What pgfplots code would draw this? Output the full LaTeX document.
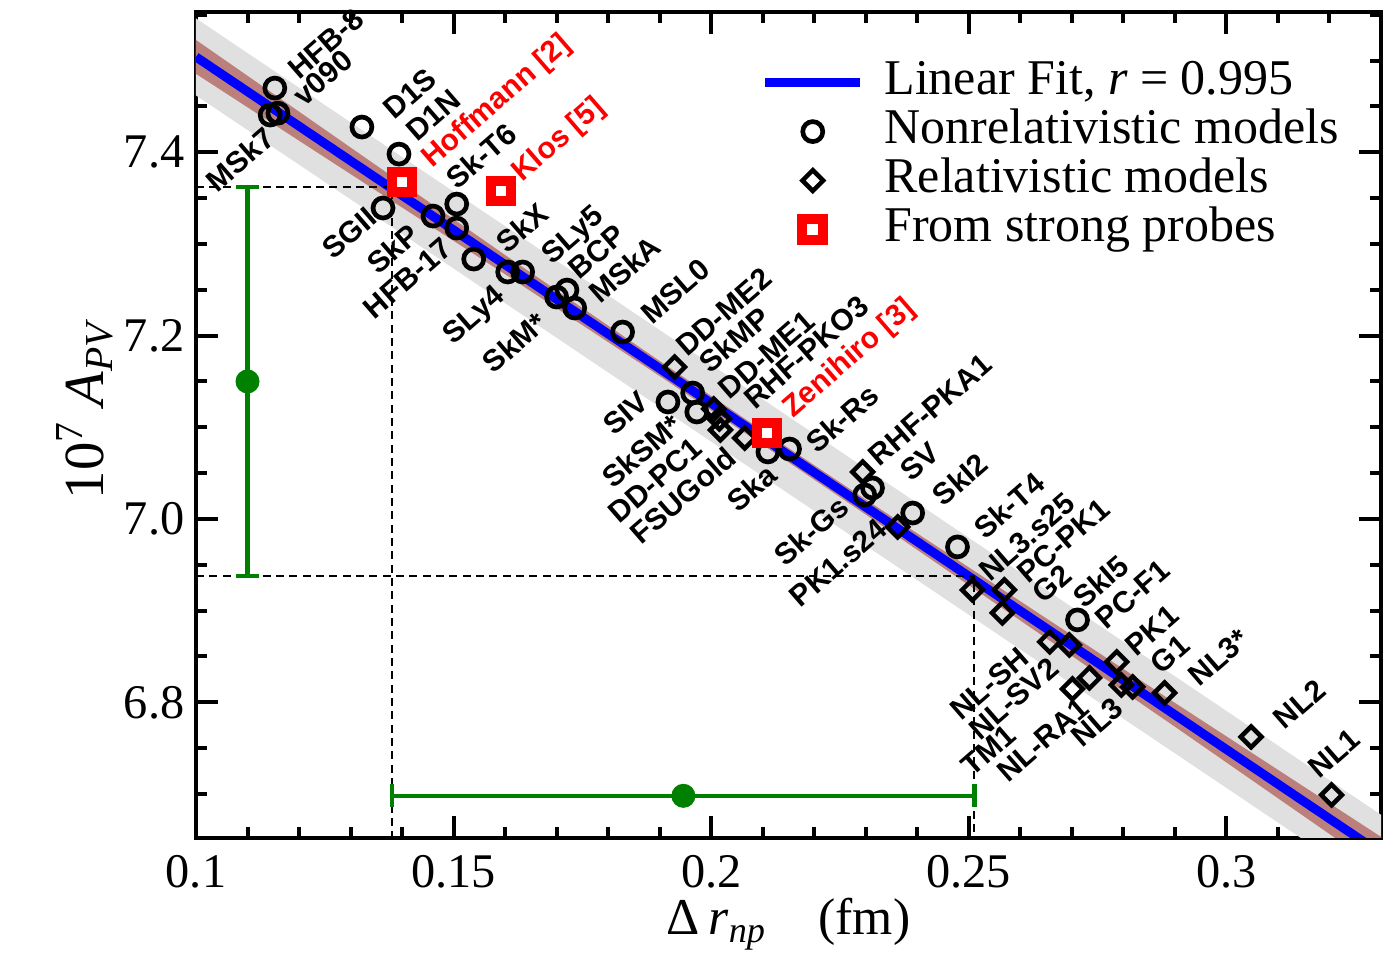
\documentclass[border=0pt]{standalone}
\usepackage{fontspec}
\setmainfont{Liberation Serif}
\setsansfont{Liberation Sans}
\usepackage{pgfplots}
\pgfplotsset{compat=1.18}
\pgfplotsset{
  longline/.style={legend image code/.code={\draw[#1] (0cm,0cm) -- (1cm,0cm);}},
  midmark/.style={legend image code/.code={\path (0cm,0cm) (1cm,0cm);
      \draw[mark repeat=2, mark phase=2, #1] plot coordinates {(0cm,0cm) (0.5cm,0cm) (1cm,0cm)};}},
}

\definecolor{fitblue}{RGB}{0,0,255}
\definecolor{bandbrown}{RGB}{188,128,124}
\definecolor{bandgray}{RGB}{224,224,224}
\definecolor{errgreen}{RGB}{0,128,0}

\begin{document}
\begin{tikzpicture}[
  lab/.style={font=\fontsize{9.0}{10}\selectfont\sffamily\bfseries, rotate=41, inner sep=0pt},
  ur/.style={lab, anchor=west},
  ll/.style={lab, anchor=east},
]
\begin{axis}[
  scale only axis,
  width=355.5pt, height=247.8pt,
  xmin=0.1, xmax=0.33, ymin=6.652, ymax=7.553,
  xtick={0.1,0.15,0.2,0.25,0.3},
  xticklabels={0.1,0.15,0.2,0.25,0.3},
  minor xtick={0.11,0.12,0.13,0.14,0.16,0.17,0.18,0.19,0.21,0.22,0.23,0.24,0.26,0.27,0.28,0.29,0.31,0.32},
  ytick={6.8,7.0,7.2,7.4},
  yticklabels={6.8,7.0,7.2,7.4},
  minor ytick={6.65,6.7,6.75,6.85,6.9,6.95,7.05,7.1,7.15,7.25,7.3,7.35,7.45,7.5,7.55},
  tick align=inside,
  major tick length=6.6pt, minor tick length=3.3pt,
  tick style={black, line width=1.2pt},
  axis line style={line width=1.2pt},
  yticklabel style={font=\fontsize{14.5}{15}\selectfont, inner sep=0pt, xshift=-3.3pt},
  xticklabel style={font=\fontsize{14.5}{15}\selectfont, inner sep=0pt, yshift=-5.1pt},
  xlabel={Δ\,\textit{r}\textsubscript{\textit{np}}\quad(fm)},
  xlabel style={font=\fontsize{15.5}{16}\selectfont, at={(axis description cs:0.5,-0.1174)}, anchor=base, inner sep=0pt},
  ylabel={10\textsuperscript{7}\ \textit{A}\textsubscript{\textit{PV}}},
  ylabel style={font=\fontsize{17}{17}\selectfont, at={(axis description cs:-0.078,0.52)}, anchor=base, inner sep=0pt},
  legend cell align=left,
  legend style={draw=none, fill=none, inner sep=0pt,
    at={(axis description cs:0.4757,0.9450)}, anchor=north west,
    font=\fontsize{15}{15}\selectfont,
    nodes={inner sep=1pt, text height=10pt, text depth=2.7pt},
    /tikz/every odd column/.append style={column sep=4.8pt}},
  clip mode=individual,
]

% prediction band (gray) and confidence band (brown)
\addplot[fill=bandgray, draw=none, forget plot] coordinates {
  (0.10,7.546) (0.33,6.6773) (0.33,6.5933) (0.10,7.462)} -- cycle;
\addplot[fill=bandbrown, draw=none, forget plot] coordinates {
  (0.10,7.5225) (0.13,7.4052) (0.16,7.2879) (0.19,7.1723) (0.21,7.0961)
  (0.23,7.0212) (0.26,6.9102) (0.29,6.7994) (0.33,6.6533)
  (0.33,6.6173) (0.29,6.7734) (0.26,6.8892) (0.23,7.0048) (0.21,7.0809)
  (0.19,7.1559) (0.16,7.2669) (0.13,7.3762) (0.10,7.4855)} -- cycle;

% linear fit
\addplot[fitblue, line width=2.7pt, longline]
  coordinates {(0.10,7.504) (0.33,6.6353)};
\addlegendentry{Linear Fit, \textit{r} = 0.995}

% dashed guide lines
\addplot[black, line width=0.6pt, dash pattern=on 2.4pt off 1.6pt, forget plot]
  coordinates {(0.10,7.362) (0.138,7.362) (0.138,6.60)};
\addplot[black, line width=0.6pt, dash pattern=on 2.4pt off 1.6pt, forget plot]
  coordinates {(0.10,6.938) (0.2511,6.938) (0.2511,6.60)};

% green error bars
\addplot[errgreen, line width=1.3pt, mark=-, mark size=3.5pt, forget plot]
  coordinates {(0.11,6.938) (0.11,7.362)};
\addplot[errgreen, line width=1.3pt, mark=|, mark size=3.5pt, forget plot]
  coordinates {(0.138,6.698) (0.2511,6.698)};
\addplot[errgreen, only marks, mark=*, mark size=3.4pt, forget plot]
  coordinates {(0.11,7.15) (0.1946,6.698)};

% nonrelativistic models
\addplot[only marks, mark=o, mark size=3.0pt, line width=1.4pt, black, midmark] coordinates {
  (0.1153,7.4700) (0.1159,7.4427) (0.1144,7.4406) (0.1322,7.4275) (0.1394,7.3980)
  (0.1363,7.3392) (0.1460,7.3304) (0.1506,7.3435) (0.1506,7.3173) (0.1539,7.2835)
  (0.1605,7.2694) (0.1634,7.2694) (0.1700,7.2421) (0.1720,7.2497) (0.1735,7.2301)
  (0.1828,7.2039) (0.1916,7.1276) (0.1964,7.1374) (0.1972,7.1167) (0.2110,7.0731)
  (0.2152,7.0763) (0.2313,7.0338) (0.2298,7.0262) (0.2391,7.0065) (0.2478,6.9695)
  (0.2711,6.8899)};
\addlegendentry{Nonrelativistic models}

% relativistic models
\addplot[only marks, mark=square, mark size=2.2pt, mark options={rotate=45}, line width=1.35pt, black, midmark] coordinates {
  (0.1929,7.1658) (0.2005,7.1200) (0.2016,7.1091) (0.2018,7.0971) (0.2065,7.0883)
  (0.2294,7.0513) (0.2362,6.9913) (0.2507,6.9226) (0.2569,6.9226) (0.2565,6.8975)
  (0.2657,6.8659) (0.2695,6.8626) (0.2787,6.8441) (0.2734,6.8266) (0.2701,6.8146)
  (0.2796,6.8190) (0.2818,6.8168) (0.2880,6.8103) (0.3048,6.7623) (0.3204,6.6990)};
\addlegendentry{Relativistic models}

% strong probes
\addplot[only marks, mark=square*, mark size=3.1pt, line width=3pt, draw=red, fill=white, midmark] coordinates {
  (0.1400,7.3675) (0.1592,7.3577) (0.2108,7.0938)};
\addlegendentry{From strong probes}

% labels, upper right of points
\node[ur] at (axis cs:0.1186,7.4864) {HFB-8};
\node[ur] at (axis cs:0.1196,7.4569) {v090};
\node[ur] at (axis cs:0.1372,7.4428) {D1S};
\node[ur] at (axis cs:0.1415,7.4188) {D1N};
\node[ur, text=red] at (axis cs:0.1448,7.3882) {Hoffmann [2]};
\node[ur] at (axis cs:0.1493,7.3664) {Sk-T6};
\node[ur, text=red] at (axis cs:0.1623,7.3730) {Klos [5]};
\node[ur] at (axis cs:0.1590,7.2966) {SkX};
\node[ur] at (axis cs:0.1681,7.2824) {SLy5};
\node[ur] at (axis cs:0.1731,7.2683) {BCP};
\node[ur] at (axis cs:0.1770,7.2421) {MSkA};
\node[ur] at (axis cs:0.1871,7.2192) {MSL0};
\node[ur] at (axis cs:0.1939,7.1843) {DD-ME2};
\node[ur] at (axis cs:0.1984,7.1658) {SkMP};
\node[ur] at (axis cs:0.2022,7.1374) {DD-ME1};
\node[ur] at (axis cs:0.2071,7.1265) {RHF-PKO3};
\node[ur, text=red] at (axis cs:0.2148,7.1156) {Zenihiro [3]};
\node[ur] at (axis cs:0.2191,7.0785) {Sk-Rs};
\node[ur] at (axis cs:0.2313,7.0643) {RHF-PKA1};
\node[ur] at (axis cs:0.2375,7.0480) {SV};
\node[ur] at (axis cs:0.2437,7.0207) {SkI2};
\node[ur] at (axis cs:0.2517,6.9847) {Sk-T4};
\node[ur] at (axis cs:0.2527,6.9389) {NL3.s25};
\node[ur] at (axis cs:0.2602,6.9367) {PC-PK1};
\node[ur] at (axis cs:0.2631,6.9149) {G2};
\node[ur] at (axis cs:0.2709,6.9095) {SkI5};
\node[ur] at (axis cs:0.2754,6.8866) {PC-F1};
\node[ur] at (axis cs:0.2812,6.8571) {PK1};
\node[ur] at (axis cs:0.2860,6.8375) {G1};
\node[ur] at (axis cs:0.2934,6.8244) {NL3*};
\node[ur] at (axis cs:0.3099,6.7775) {NL2};
\node[ur] at (axis cs:0.3167,6.7241) {NL1};

% labels, lower left of points
\node[ll] at (axis cs:0.1144,7.4209) {MSk7};
\node[ll] at (axis cs:0.1343,7.3337) {SGII};
\node[ll] at (axis cs:0.1425,7.3152) {SkP};
\node[ll] at (axis cs:0.1489,7.3010) {HFB-17};
\node[ll] at (axis cs:0.1594,7.2465) {SLy4};
\node[ll] at (axis cs:0.1673,7.2192) {SkM*};
\node[ll] at (axis cs:0.1871,7.1330) {SIV};
\node[ll] at (axis cs:0.1935,7.1080) {SkSM*};
\node[ll] at (axis cs:0.1974,7.0829) {DD-PC1};
\node[ll] at (axis cs:0.2040,7.0720) {FSUGold};
\node[ll] at (axis cs:0.2119,7.0534) {Ska};
\node[ll] at (axis cs:0.2259,7.0185) {Sk-Gs};
\node[ll] at (axis cs:0.2333,6.9945) {PK1.s24};
\node[ll] at (axis cs:0.2608,6.8539) {NL-SH};
\node[ll] at (axis cs:0.2666,6.8430) {NL-SV2};
\node[ll] at (axis cs:0.2583,6.7699) {TM1};
\node[ll] at (axis cs:0.2725,6.7993) {NL-RA1};
\node[ll] at (axis cs:0.2792,6.7993) {NL3};

\end{axis}
\pgfresetboundingbox
\useasboundingbox (-58.8pt,-37.2pt) rectangle (358.5pt,251.4pt);
\end{tikzpicture}
\end{document}
